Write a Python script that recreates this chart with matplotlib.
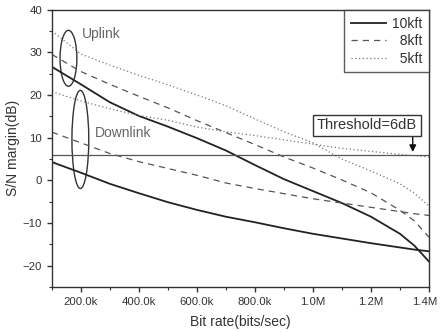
import matplotlib
matplotlib.use("Agg")
import matplotlib.pyplot as plt
from matplotlib.patches import Ellipse
from matplotlib.ticker import MultipleLocator
from matplotlib.transforms import ScaledTranslation

plt.rcParams['font.family'] = ['Liberation Sans', 'DejaVu Sans']

# data (bit rate in bits/sec, S/N margin in dB)
x = [100e3, 200e3, 300e3, 400e3, 500e3, 600e3, 700e3, 800e3, 900e3,
     1000e3, 1100e3, 1200e3, 1300e3, 1350e3, 1400e3]
up10 = [26.6, 22.5, 18.3, 15.1, 12.6, 9.9, 7.0, 3.6, 0.3, -2.5, -5.3, -8.5, -12.5, -15.3, -19.0]
dn10 = [4.3, 1.8, -0.8, -3.0, -5.1, -6.9, -8.5, -9.8, -11.2, -12.5, -13.6, -14.7, -15.7, -16.2, -16.6]
up8 = [29.5, 25.5, 22.5, 19.7, 17.0, 14.0, 11.2, 8.4, 5.5, 2.9, 0.1, -2.9, -7.0, -9.5, -13.3]
dn8 = [11.3, 8.8, 6.3, 4.4, 2.8, 1.2, -0.6, -1.9, -3.1, -4.3, -5.3, -6.3, -7.3, -7.8, -8.2]
up5 = [35.0, 29.6, 27.0, 24.6, 22.4, 20.0, 17.5, 14.4, 11.4, 8.8, 5.0, 2.2, -0.8, -3.0, -6.0]
dn5 = [20.8, 18.6, 16.8, 15.2, 14.1, 12.5, 11.4, 10.5, 9.5, 8.5, 7.5, 6.8, 6.1, 5.8, 5.5]
threshold = 6
xticks = [200e3, 400e3, 600e3, 800e3, 1000e3, 1200e3, 1400e3]
xticklabels = ['200.0k', '400.0k', '600.0k', '800.0k', '1.0M', '1.2M', '1.4M']
yticks = [-20, -10, 0, 10, 20, 30, 40]

fig = plt.figure(figsize=(4.4, 3.32), dpi=100)
ax = fig.add_axes([0.118, 0.135, 0.857, 0.836])

c_solid = '#222222'
c_dash = '#555555'
c_dot = '#777777'
l1, = ax.plot(x, up10, color=c_solid, lw=1.3, label='10kft')
ax.plot(x, dn10, color=c_solid, lw=1.3)
l2, = ax.plot(x, up8, color=c_dash, lw=0.9, ls=(0, (5, 4)), label='8kft')
ax.plot(x, dn8, color=c_dash, lw=0.9, ls=(0, (5, 4)))
l3, = ax.plot(x, up5, color=c_dot, lw=0.9, ls=(0, (1, 2)), label='5kft')
ax.plot(x, dn5, color=c_dot, lw=0.9, ls=(0, (1, 2)))

ax.axhline(threshold, color='#555555', lw=0.9)

ax.add_patch(Ellipse((157e3, 28.6), 58e3, 13.1, fill=False, ec='#333333', lw=1.0))
ax.add_patch(Ellipse((198e3, 9.6), 58e3, 23.0, fill=False, ec='#333333', lw=1.0))
ax.text(203e3, 34.4, 'Uplink', fontsize=10, color='#666666', va='center', ha='left')
ax.text(248e3, 11.2, 'Downlink', fontsize=10, color='#666666', va='center', ha='left')

ax.annotate('', xy=(1344e3, threshold), xytext=(1344e3, 11.0),
            arrowprops=dict(arrowstyle='-|>', color='#111111', lw=1.0, mutation_scale=10))
ax.text(1186e3, 12.9, 'Threshold=6dB', fontsize=10.5, color='#333333', ha='center', va='center',
        bbox=dict(boxstyle='square,pad=0.25', fc='white', ec='#333333', lw=1.0))

ax.set_xlim(100e3, 1400e3)
ax.set_ylim(-25, 40)
ax.set_xticks(xticks)
ax.set_xticklabels(xticklabels)
ax.set_yticks(yticks)
ax.xaxis.set_minor_locator(MultipleLocator(100e3))
ax.yaxis.set_minor_locator(MultipleLocator(5))
ax.tick_params(which='both', direction='out', labelsize=8.2, colors='#333333', top=False, right=False)
ax.tick_params(which='major', length=3.5, width=1.0)
ax.tick_params(which='minor', length=2, width=0.8)
for s in ax.spines.values():
    s.set_color('#333333')
    s.set_linewidth(1.0)

# keep the last tick label inside the figure
last = ax.get_xticklabels()[-1]
last.set_transform(last.get_transform() + ScaledTranslation(-4 / 100, 0, fig.dpi_scale_trans))

ax.set_xlabel('Bit rate(bits/sec)', fontsize=10, color='#333333', labelpad=6)
ax.set_ylabel('S/N margin(dB)', fontsize=10, color='#333333', labelpad=2)

leg = ax.legend(handles=[l1, l2, l3], labels=['10kft', '\u20078kft', '\u20075kft'],
                loc='upper right', fontsize=10, frameon=True, fancybox=False,
                edgecolor='#333333', handlelength=2.5, borderaxespad=0.0,
                borderpad=0.5, labelspacing=0.25, handletextpad=0.4)
leg.get_frame().set_linewidth(1.0)
for t in leg.get_texts():
    t.set_color('#333333')

fig.savefig('out.png', dpi=100)
